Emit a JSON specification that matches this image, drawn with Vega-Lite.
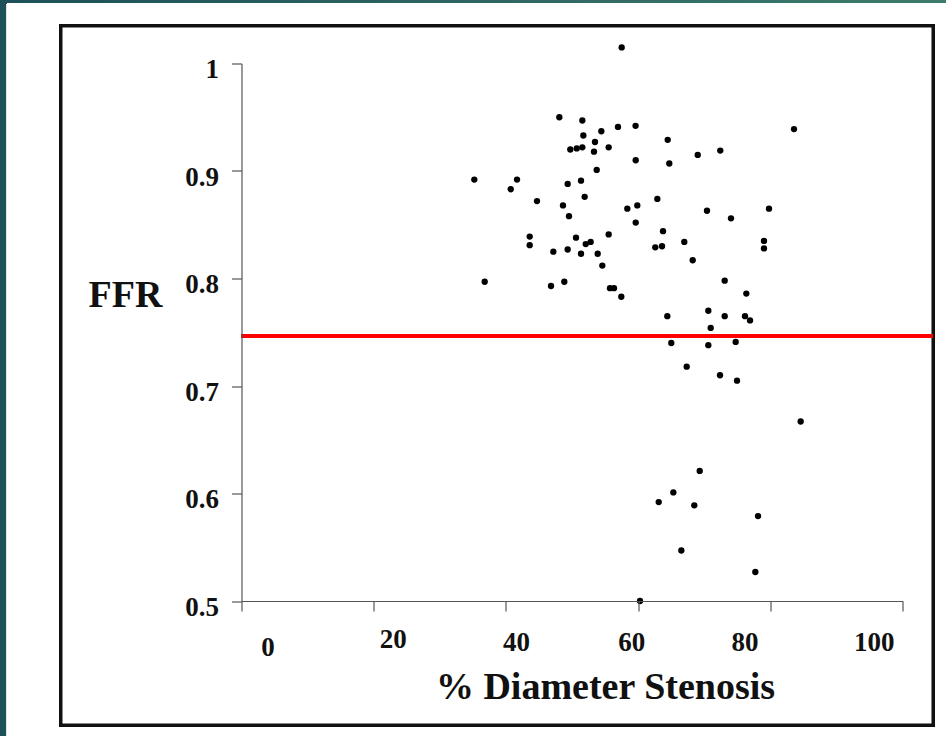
{
  "$schema": "https://vega.github.io/schema/vega-lite/v6.json",
  "autosize": {"type": "none"},
  "width": 661.2,
  "height": 537.5,
  "padding": {"left": 241.5, "top": 63.5, "right": 43.3, "bottom": 135},
  "background": "#245a60",
  "config": {"view": {"stroke": null}},
  "data": {"values": [
    {"stenosis": 48.07, "ffr": 0.950}, {"stenosis": 51.55, "ffr": 0.947}, {"stenosis": 56.94, "ffr": 0.941},
    {"stenosis": 59.6, "ffr": 0.942}, {"stenosis": 54.42, "ffr": 0.937}, {"stenosis": 51.7, "ffr": 0.933},
    {"stenosis": 53.46, "ffr": 0.927}, {"stenosis": 49.73, "ffr": 0.920}, {"stenosis": 50.7, "ffr": 0.921},
    {"stenosis": 51.55, "ffr": 0.922}, {"stenosis": 55.53, "ffr": 0.922}, {"stenosis": 53.31, "ffr": 0.918},
    {"stenosis": 59.62, "ffr": 0.910}, {"stenosis": 53.72, "ffr": 0.901}, {"stenosis": 35.21, "ffr": 0.892},
    {"stenosis": 41.67, "ffr": 0.892}, {"stenosis": 40.71, "ffr": 0.883}, {"stenosis": 49.33, "ffr": 0.888},
    {"stenosis": 51.35, "ffr": 0.891}, {"stenosis": 51.9, "ffr": 0.876}, {"stenosis": 44.69, "ffr": 0.872},
    {"stenosis": 48.62, "ffr": 0.868}, {"stenosis": 58.35, "ffr": 0.865}, {"stenosis": 59.86, "ffr": 0.868},
    {"stenosis": 49.53, "ffr": 0.858}, {"stenosis": 59.62, "ffr": 0.852}, {"stenosis": 43.59, "ffr": 0.839},
    {"stenosis": 43.59, "ffr": 0.831}, {"stenosis": 50.59, "ffr": 0.838}, {"stenosis": 55.53, "ffr": 0.841},
    {"stenosis": 52.06, "ffr": 0.832}, {"stenosis": 52.81, "ffr": 0.834}, {"stenosis": 47.16, "ffr": 0.825},
    {"stenosis": 49.33, "ffr": 0.827}, {"stenosis": 51.35, "ffr": 0.823}, {"stenosis": 53.87, "ffr": 0.823},
    {"stenosis": 54.57, "ffr": 0.812}, {"stenosis": 36.78, "ffr": 0.797}, {"stenosis": 46.81, "ffr": 0.793},
    {"stenosis": 48.82, "ffr": 0.797}, {"stenosis": 55.73, "ffr": 0.791}, {"stenosis": 56.34, "ffr": 0.791},
    {"stenosis": 57.44, "ffr": 0.783}, {"stenosis": 64.46, "ffr": 0.929}, {"stenosis": 83.56, "ffr": 0.939},
    {"stenosis": 69.0, "ffr": 0.915}, {"stenosis": 72.41, "ffr": 0.919}, {"stenosis": 64.7, "ffr": 0.907},
    {"stenosis": 62.89, "ffr": 0.874}, {"stenosis": 70.4, "ffr": 0.863}, {"stenosis": 74.03, "ffr": 0.856},
    {"stenosis": 79.78, "ffr": 0.865}, {"stenosis": 63.75, "ffr": 0.844}, {"stenosis": 62.58, "ffr": 0.829},
    {"stenosis": 63.6, "ffr": 0.830}, {"stenosis": 66.97, "ffr": 0.834}, {"stenosis": 68.24, "ffr": 0.817},
    {"stenosis": 79.02, "ffr": 0.835}, {"stenosis": 79.02, "ffr": 0.828}, {"stenosis": 73.08, "ffr": 0.798},
    {"stenosis": 76.35, "ffr": 0.786}, {"stenosis": 70.6, "ffr": 0.770}, {"stenosis": 64.4, "ffr": 0.765},
    {"stenosis": 73.08, "ffr": 0.765}, {"stenosis": 76.15, "ffr": 0.765}, {"stenosis": 76.91, "ffr": 0.761},
    {"stenosis": 70.96, "ffr": 0.754}, {"stenosis": 65.0, "ffr": 0.740}, {"stenosis": 70.6, "ffr": 0.738},
    {"stenosis": 74.74, "ffr": 0.741}, {"stenosis": 67.33, "ffr": 0.718}, {"stenosis": 72.37, "ffr": 0.710},
    {"stenosis": 74.94, "ffr": 0.705}, {"stenosis": 84.57, "ffr": 0.667}, {"stenosis": 69.3, "ffr": 0.621},
    {"stenosis": 65.31, "ffr": 0.601}, {"stenosis": 63.1, "ffr": 0.592}, {"stenosis": 68.48, "ffr": 0.589},
    {"stenosis": 78.12, "ffr": 0.579}, {"stenosis": 66.52, "ffr": 0.547}, {"stenosis": 77.71, "ffr": 0.527},
    {"stenosis": 60.27, "ffr": 0.500}, {"stenosis": 57.5, "ffr": 1.015}
  ]},
  "layer": [
    {
      "mark": {"type": "rect", "stroke": null, "fill": {"gradient": "linear", "x1": 0, "x2": 1, "y1": 0, "y2": 0, "stops": [{"offset": 0, "color": "#1d4f58"}, {"offset": 1, "color": "#3e7c6c"}]}},
      "encoding": {
        "x": {"datum": -40, "type": "quantitative", "scale": {"domain": [0, 100], "nice": false, "zero": false}},
        "x2": {"datum": 110},
        "y": {"datum": 1.07, "type": "quantitative", "scale": {"domain": [0.5, 1], "nice": false, "zero": false}},
        "y2": {"datum": 0.36}
      }
    },
    {
      "mark": {"type": "rect", "fill": "#ffffff", "stroke": null},
      "encoding": {
        "x": {"datum": -35.47, "type": "quantitative"},
        "x2": {"datum": 106.6},
        "y": {"datum": 1.0558, "type": "quantitative"},
        "y2": {"datum": 0.3744}
      }
    },
    {
      "mark": {"type": "rect", "fill": "#ffffff", "stroke": "#111111", "strokeWidth": 3},
      "encoding": {
        "x": {"datum": -27.3, "type": "quantitative"},
        "x2": {"datum": 104.58},
        "y": {"datum": 1.0349, "type": "quantitative"},
        "y2": {"datum": 0.3847}
      }
    },
    {
      "mark": {"type": "rule", "color": "#ff0000", "strokeWidth": 3.5},
      "encoding": {
        "x": {"datum": 0, "type": "quantitative"},
        "x2": {"datum": 104.58},
        "y": {"datum": 0.7468, "type": "quantitative"}
      }
    },
    {
      "mark": {"type": "point", "shape": "circle", "filled": true, "size": 40, "color": "#000000", "opacity": 1},
      "encoding": {
        "x": {
          "field": "stenosis", "type": "quantitative",
          "axis": {
            "title": "% Diameter Stenosis",
            "values": [0, 20, 40, 60, 80, 100],
            "format": "d",
            "zindex": 1,
            "grid": false,
            "domainColor": "#555555", "domainWidth": 1.2,
            "tickColor": "#555555", "tickSize": 10, "tickWidth": 1.2,
            "labelFont": "Liberation Serif", "labelFontSize": 27, "labelFontWeight": "bold", "labelColor": "#111111",
            "labelBaseline": "alphabetic", "labelAlign": "center", "labelFlush": false, "labelOverlap": false,
            "labelPadding": {"condition": [{"test": "datum.value == 0", "value": 44}, {"test": "datum.value == 20", "value": 36}], "value": 39},
            "labelOffset": {"condition": [
              {"test": "datum.value == 0", "value": 26},
              {"test": "datum.value == 20", "value": 19},
              {"test": "datum.value == 40", "value": 10},
              {"test": "datum.value == 60", "value": -7},
              {"test": "datum.value == 80", "value": -26}
            ], "value": -29},
            "titleFont": "Liberation Serif", "titleFontSize": 38, "titleFontWeight": "bold", "titleColor": "#111111",
            "titleX": 363.5, "titleY": 97, "titleAlign": "center", "titleBaseline": "alphabetic"
          }
        },
        "y": {
          "field": "ffr", "type": "quantitative",
          "axis": {
            "title": "FFR",
            "values": [0.5, 0.6, 0.7, 0.8, 0.9, 1],
            "format": "~g",
            "zindex": 1,
            "grid": false,
            "domainColor": "#555555", "domainWidth": 1.2,
            "tickColor": "#555555", "tickSize": 10, "tickWidth": 1.2,
            "labelFont": "Liberation Serif", "labelFontSize": 27, "labelFontWeight": "bold", "labelColor": "#111111",
            "labelBaseline": "alphabetic", "labelAlign": "right", "labelFlush": false, "labelOverlap": false,
            "labelPadding": 13, "labelOffset": 14,
            "titleFont": "Liberation Serif", "titleFontSize": 38, "titleFontWeight": "bold", "titleColor": "#111111",
            "titleAngle": 0, "titleX": -116.5, "titleY": 243.2, "titleAlign": "center", "titleBaseline": "alphabetic"
          }
        }
      }
    }
  ]
}
